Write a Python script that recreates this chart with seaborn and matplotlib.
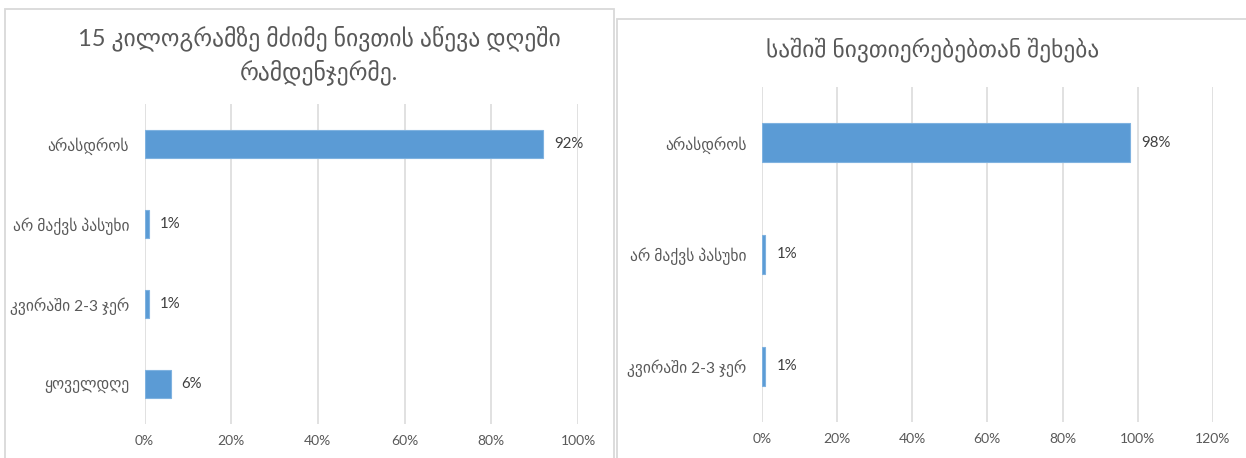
import matplotlib
matplotlib.use("Agg")
import matplotlib.pyplot as plt
from matplotlib.patches import Rectangle
from matplotlib.ticker import FuncFormatter
import seaborn as sns
import pandas as pd

# Survey answers: lifting objects heavier than 15 kg per day
lift_title = "15 კილოგრამზე მძიმე ნივთის აწევა დღეში\nრამდენჯერმე."
lift_categories = ["არასდროს", "არ მაქვს პასუხი", "კვირაში 2-3 ჯერ", "ყოველდღე"]
lift_values = [92, 1, 1, 6]

# Survey answers: contact with hazardous substances
hazard_title = "საშიშ ნივთიერებებთან შეხება"
hazard_categories = ["არასდროს", "არ მაქვს პასუხი", "კვირაში 2-3 ჯერ"]
hazard_values = [98, 1, 1]

sns.set_theme(style="white")
plt.rcParams["font.family"] = ["Lato", "DejaVu Sans"]

W, H = 1246, 458
DPI = 100
BAR = "#5B9BD5"
GRID = "#D9D9D9"
TEXT = "#595959"
LABEL = "#404040"

fig = plt.figure(figsize=(W / DPI, H / DPI), dpi=DPI)
fig.patch.set_facecolor("white")


def px_axes(x0, x1, y0, y1):
    """Axes placed by pixel edges (y measured from the top)."""
    return fig.add_axes([x0 / W, (H - y1) / H, (x1 - x0) / W, (y1 - y0) / H])


def panel(x0, y0, x1, y1):
    fig.patches.append(Rectangle((x0 / W, (H - y1) / H), (x1 - x0) / W, (y1 - y0) / H,
                                 transform=fig.transFigure, fill=False,
                                 edgecolor=GRID, linewidth=1.3, zorder=0))


def draw(ax, cats, vals, xmax):
    df = pd.DataFrame({"category": cats, "share": vals})
    sns.barplot(data=df, x="share", y="category", orient="h", color=BAR,
                width=0.35, saturation=1, edgecolor="#7FB2E0", linewidth=0.8,
                ax=ax, zorder=3)
    ax.set_xlim(0, xmax)
    ax.set_ylim(len(cats) - 0.5, -0.5)
    ax.set_xticks(range(0, xmax + 1, 20))
    ax.xaxis.set_major_formatter(FuncFormatter(lambda v, _: f"{v:.0f}%"))
    ax.grid(axis="x", color=GRID, linewidth=1.1, zorder=0)
    ax.grid(axis="y", visible=False)
    for s in ax.spines.values():
        s.set_visible(False)
    ax.set_xlabel("")
    ax.set_ylabel("")
    ax.tick_params(axis="x", length=0, pad=8, labelsize=10, labelcolor=TEXT)
    ax.tick_params(axis="y", length=0, pad=11, labelsize=11.2, labelcolor=TEXT)
    ax.bar_label(ax.containers[0], labels=[f"{v}%" for v in vals], padding=8,
                 fontsize=10.8, color=LABEL)


panel(5, 9, 614, 470)
panel(617, 19, 1260, 470)

ax1 = px_axes(144.5, 578, 104, 424)
draw(ax1, lift_categories, lift_values, 100)
fig.text(319 / W, 1 - 55 / H, lift_title, ha="center", va="center",
         fontsize=17, color=TEXT, linespacing=1.4)

ax2 = px_axes(761.7, 1212.9, 87, 422)
draw(ax2, hazard_categories, hazard_values, 120)
fig.text(933 / W, 1 - 50 / H, hazard_title, ha="center", va="center",
         fontsize=16.8, color=TEXT)

fig.savefig("out.png", dpi=DPI)
